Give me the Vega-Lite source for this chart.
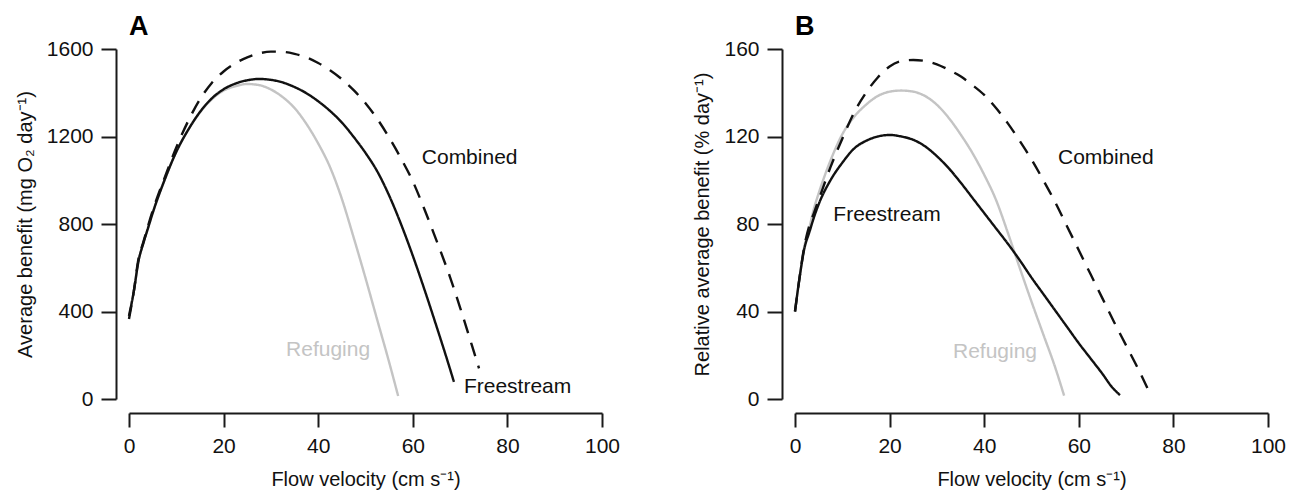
{
  "$schema": "https://vega.github.io/schema/vega-lite/v6.json",
  "background": "white",
  "padding": {"left": 15, "top": 13, "right": 5, "bottom": 5},
  "bounds": "flush",
  "spacing": 193,
  "config": {
    "view": {"stroke": null},
    "font": "Liberation Sans",
    "axis": {
      "domain": true, "ticks": true,
      "domainColor": "#1a1a1a", "domainWidth": 2, "domainOpacity": 1, "tickColor": "#1a1a1a", "tickWidth": 2,
      "tickSize": 15, "labelFontSize": 21, "titleFontSize": 20, "labelColor": "#111111",
      "titleColor": "#111111", "titleFontWeight": "normal", "grid": false,
      "labelFont": "Liberation Sans", "titleFont": "Liberation Sans",
      "labelFlush": false, "labelOverlap": false, "format": "d"
    },
    "axisX": {"offset": 14, "labelPadding": 8, "titlePadding": 13, "tickSize": 14},
    "axisY": {"offset": 13, "labelPadding": 8, "titlePadding": 11}
  },
  "datasets": {
    "a": [
      {"series": "Refuging", "v": 0, "val": 380}, {"series": "Refuging", "v": 1, "val": 490}, {"series": "Refuging", "v": 2, "val": 630}, {"series": "Refuging", "v": 3, "val": 710}, {"series": "Refuging", "v": 4, "val": 780}, {"series": "Refuging", "v": 5, "val": 850}, {"series": "Refuging", "v": 7.5, "val": 1000}, {"series": "Refuging", "v": 10, "val": 1130}, {"series": "Refuging", "v": 12.5, "val": 1230}, {"series": "Refuging", "v": 15, "val": 1310}, {"series": "Refuging", "v": 17.5, "val": 1370}, {"series": "Refuging", "v": 20, "val": 1410}, {"series": "Refuging", "v": 22.5, "val": 1430}, {"series": "Refuging", "v": 25, "val": 1440}, {"series": "Refuging", "v": 27.5, "val": 1435}, {"series": "Refuging", "v": 30, "val": 1415}, {"series": "Refuging", "v": 32.5, "val": 1380}, {"series": "Refuging", "v": 35, "val": 1330}, {"series": "Refuging", "v": 37.5, "val": 1258}, {"series": "Refuging", "v": 40, "val": 1168}, {"series": "Refuging", "v": 42.5, "val": 1060}, {"series": "Refuging", "v": 45, "val": 915}, {"series": "Refuging", "v": 47.5, "val": 738}, {"series": "Refuging", "v": 50, "val": 553}, {"series": "Refuging", "v": 52.5, "val": 360}, {"series": "Refuging", "v": 55, "val": 168}, {"series": "Refuging", "v": 56.9, "val": 14},
      {"series": "Freestream", "v": 0, "val": 380}, {"series": "Freestream", "v": 1, "val": 490}, {"series": "Freestream", "v": 2, "val": 630}, {"series": "Freestream", "v": 3, "val": 710}, {"series": "Freestream", "v": 4, "val": 780}, {"series": "Freestream", "v": 5, "val": 850}, {"series": "Freestream", "v": 7.5, "val": 1000}, {"series": "Freestream", "v": 10, "val": 1130}, {"series": "Freestream", "v": 12.5, "val": 1230}, {"series": "Freestream", "v": 15, "val": 1312}, {"series": "Freestream", "v": 17.5, "val": 1374}, {"series": "Freestream", "v": 20, "val": 1416}, {"series": "Freestream", "v": 22.5, "val": 1442}, {"series": "Freestream", "v": 25, "val": 1457}, {"series": "Freestream", "v": 27.5, "val": 1463}, {"series": "Freestream", "v": 30, "val": 1459}, {"series": "Freestream", "v": 32.5, "val": 1447}, {"series": "Freestream", "v": 35, "val": 1426}, {"series": "Freestream", "v": 37.5, "val": 1398}, {"series": "Freestream", "v": 40, "val": 1361}, {"series": "Freestream", "v": 42.5, "val": 1317}, {"series": "Freestream", "v": 45, "val": 1264}, {"series": "Freestream", "v": 47.5, "val": 1198}, {"series": "Freestream", "v": 50, "val": 1125}, {"series": "Freestream", "v": 52.5, "val": 1040}, {"series": "Freestream", "v": 55, "val": 930}, {"series": "Freestream", "v": 57.5, "val": 800}, {"series": "Freestream", "v": 60, "val": 655}, {"series": "Freestream", "v": 62.5, "val": 498}, {"series": "Freestream", "v": 65, "val": 333}, {"series": "Freestream", "v": 67.5, "val": 163}, {"series": "Freestream", "v": 68.7, "val": 78},
      {"series": "Combined", "v": 0, "val": 366}, {"series": "Combined", "v": 1, "val": 490}, {"series": "Combined", "v": 2, "val": 640}, {"series": "Combined", "v": 3, "val": 715}, {"series": "Combined", "v": 5, "val": 860}, {"series": "Combined", "v": 7.5, "val": 1010}, {"series": "Combined", "v": 10, "val": 1150}, {"series": "Combined", "v": 12.5, "val": 1270}, {"series": "Combined", "v": 15, "val": 1370}, {"series": "Combined", "v": 17.5, "val": 1445}, {"series": "Combined", "v": 20, "val": 1497}, {"series": "Combined", "v": 22.5, "val": 1535}, {"series": "Combined", "v": 25, "val": 1562}, {"series": "Combined", "v": 27.5, "val": 1580}, {"series": "Combined", "v": 30, "val": 1588}, {"series": "Combined", "v": 32.5, "val": 1587}, {"series": "Combined", "v": 35, "val": 1578}, {"series": "Combined", "v": 37.5, "val": 1562}, {"series": "Combined", "v": 40, "val": 1536}, {"series": "Combined", "v": 42.5, "val": 1503}, {"series": "Combined", "v": 45, "val": 1462}, {"series": "Combined", "v": 47.5, "val": 1412}, {"series": "Combined", "v": 50, "val": 1352}, {"series": "Combined", "v": 52.5, "val": 1280}, {"series": "Combined", "v": 55, "val": 1195}, {"series": "Combined", "v": 57.5, "val": 1100}, {"series": "Combined", "v": 60, "val": 995}, {"series": "Combined", "v": 62.5, "val": 865}, {"series": "Combined", "v": 65, "val": 725}, {"series": "Combined", "v": 67.5, "val": 580}, {"series": "Combined", "v": 70, "val": 418}, {"series": "Combined", "v": 72.5, "val": 245}, {"series": "Combined", "v": 74, "val": 140}
    ],
    "b": [
      {"series": "Refuging", "v": 0, "val": 40}, {"series": "Refuging", "v": 1, "val": 56}, {"series": "Refuging", "v": 2, "val": 70}, {"series": "Refuging", "v": 3, "val": 78}, {"series": "Refuging", "v": 4, "val": 87}, {"series": "Refuging", "v": 5, "val": 94}, {"series": "Refuging", "v": 7.5, "val": 109}, {"series": "Refuging", "v": 10, "val": 121}, {"series": "Refuging", "v": 12.5, "val": 129}, {"series": "Refuging", "v": 15, "val": 134.5}, {"series": "Refuging", "v": 17.5, "val": 138.5}, {"series": "Refuging", "v": 20, "val": 140.5}, {"series": "Refuging", "v": 22.5, "val": 141}, {"series": "Refuging", "v": 25, "val": 140.5}, {"series": "Refuging", "v": 27.5, "val": 138.5}, {"series": "Refuging", "v": 30, "val": 134.5}, {"series": "Refuging", "v": 32.5, "val": 128.5}, {"series": "Refuging", "v": 35, "val": 121}, {"series": "Refuging", "v": 37.5, "val": 112.5}, {"series": "Refuging", "v": 40, "val": 102.5}, {"series": "Refuging", "v": 42.5, "val": 91}, {"series": "Refuging", "v": 45, "val": 76}, {"series": "Refuging", "v": 47.5, "val": 60}, {"series": "Refuging", "v": 50, "val": 44.5}, {"series": "Refuging", "v": 52.5, "val": 29.5}, {"series": "Refuging", "v": 55, "val": 14.5}, {"series": "Refuging", "v": 56.9, "val": 1.5},
      {"series": "Freestream", "v": 0, "val": 40}, {"series": "Freestream", "v": 1, "val": 56}, {"series": "Freestream", "v": 2, "val": 69}, {"series": "Freestream", "v": 3, "val": 76}, {"series": "Freestream", "v": 4, "val": 83}, {"series": "Freestream", "v": 5, "val": 89}, {"series": "Freestream", "v": 7.5, "val": 100}, {"series": "Freestream", "v": 10, "val": 108}, {"series": "Freestream", "v": 12.5, "val": 114.5}, {"series": "Freestream", "v": 15, "val": 118}, {"series": "Freestream", "v": 17.5, "val": 120}, {"series": "Freestream", "v": 20, "val": 120.7}, {"series": "Freestream", "v": 22.5, "val": 120}, {"series": "Freestream", "v": 25, "val": 118.5}, {"series": "Freestream", "v": 27.5, "val": 115.5}, {"series": "Freestream", "v": 30, "val": 111}, {"series": "Freestream", "v": 32.5, "val": 105.5}, {"series": "Freestream", "v": 35, "val": 99}, {"series": "Freestream", "v": 37.5, "val": 92}, {"series": "Freestream", "v": 40, "val": 85}, {"series": "Freestream", "v": 42.5, "val": 78}, {"series": "Freestream", "v": 45, "val": 71}, {"series": "Freestream", "v": 47.5, "val": 63.5}, {"series": "Freestream", "v": 50, "val": 55.5}, {"series": "Freestream", "v": 52.5, "val": 48}, {"series": "Freestream", "v": 55, "val": 40.5}, {"series": "Freestream", "v": 57.5, "val": 33}, {"series": "Freestream", "v": 60, "val": 25.5}, {"series": "Freestream", "v": 62.5, "val": 18.5}, {"series": "Freestream", "v": 65, "val": 11.5}, {"series": "Freestream", "v": 67, "val": 5.5}, {"series": "Freestream", "v": 68.7, "val": 1.8},
      {"series": "Combined", "v": 0, "val": 40}, {"series": "Combined", "v": 1, "val": 56}, {"series": "Combined", "v": 2, "val": 70}, {"series": "Combined", "v": 3, "val": 79}, {"series": "Combined", "v": 4, "val": 85}, {"series": "Combined", "v": 5, "val": 91}, {"series": "Combined", "v": 7.5, "val": 106}, {"series": "Combined", "v": 10, "val": 119}, {"series": "Combined", "v": 12.5, "val": 131}, {"series": "Combined", "v": 15, "val": 140}, {"series": "Combined", "v": 17.5, "val": 147}, {"series": "Combined", "v": 20, "val": 152}, {"series": "Combined", "v": 22.5, "val": 154.5}, {"series": "Combined", "v": 25, "val": 155}, {"series": "Combined", "v": 27.5, "val": 154.5}, {"series": "Combined", "v": 30, "val": 153}, {"series": "Combined", "v": 32.5, "val": 150.5}, {"series": "Combined", "v": 35, "val": 147.5}, {"series": "Combined", "v": 37.5, "val": 143.5}, {"series": "Combined", "v": 40, "val": 139}, {"series": "Combined", "v": 42.5, "val": 133}, {"series": "Combined", "v": 45, "val": 126}, {"series": "Combined", "v": 47.5, "val": 118}, {"series": "Combined", "v": 50, "val": 109.5}, {"series": "Combined", "v": 52.5, "val": 100}, {"series": "Combined", "v": 55, "val": 90}, {"series": "Combined", "v": 57.5, "val": 79}, {"series": "Combined", "v": 60, "val": 68}, {"series": "Combined", "v": 62.5, "val": 57}, {"series": "Combined", "v": 65, "val": 46}, {"series": "Combined", "v": 67.5, "val": 35}, {"series": "Combined", "v": 70, "val": 24.5}, {"series": "Combined", "v": 72.5, "val": 14}, {"series": "Combined", "v": 74.5, "val": 5}
    ],
    "la": [
      {"series": "Combined", "label": "Combined", "v": 61.9, "val": 1102},
      {"series": "Freestream", "label": "Freestream", "v": 70.8, "val": 56},
      {"series": "Refuging", "label": "Refuging", "v": 33.2, "val": 224}
    ],
    "lb": [
      {"series": "Combined", "label": "Combined", "v": 55.6, "val": 110},
      {"series": "Freestream", "label": "Freestream", "v": 8.1, "val": 84},
      {"series": "Refuging", "label": "Refuging", "v": 33.4, "val": 21.6}
    ]
  },
  "hconcat": [
    {
      "width": 473, "height": 350,
      "title": {"text": "A", "anchor": "start", "frame": "group", "fontSize": 27, "fontWeight": "bold", "font": "Liberation Sans", "color": "#000000", "offset": -3},
      "layer": [
        {
          "data": {"name": "a"},
          "mark": {"type": "line", "strokeWidth": 2.4, "interpolate": "monotone"},
          "encoding": {
            "x": {"field": "v", "type": "quantitative", "scale": {"domain": [0, 100], "nice": false}, "axis": {"values": [0, 20, 40, 60, 80, 100], "title": "Flow velocity (cm s⁻¹)", "domain": true}},
            "y": {"field": "val", "type": "quantitative", "scale": {"domain": [0, 1600], "nice": false}, "axis": {"values": [0, 400, 800, 1200, 1600], "title": "Average benefit (mg O₂ day⁻¹)", "domain": true}},
            "color": {"field": "series", "type": "nominal", "scale": {"domain": ["Refuging", "Freestream", "Combined"], "range": ["#c4c4c4", "#111111", "#111111"]}, "legend": null},
            "strokeDash": {"field": "series", "type": "nominal", "scale": {"domain": ["Refuging", "Freestream", "Combined"], "range": [[1, 0], [1, 0], [14, 10]]}, "legend": null}
          }
        },
        {
          "data": {"name": "la"},
          "mark": {"type": "text", "align": "left", "baseline": "middle", "fontSize": 21, "font": "Liberation Sans"},
          "encoding": {
            "x": {"field": "v", "type": "quantitative"},
            "y": {"field": "val", "type": "quantitative"},
            "text": {"field": "label"},
            "color": {"field": "series", "type": "nominal", "legend": null}
          }
        }
      ]
    },
    {
      "width": 473, "height": 350,
      "title": {"text": "B", "anchor": "start", "frame": "group", "fontSize": 27, "fontWeight": "bold", "font": "Liberation Sans", "color": "#000000", "offset": -3},
      "layer": [
        {
          "data": {"name": "b"},
          "mark": {"type": "line", "strokeWidth": 2.4, "interpolate": "monotone"},
          "encoding": {
            "x": {"field": "v", "type": "quantitative", "scale": {"domain": [0, 100], "nice": false}, "axis": {"values": [0, 20, 40, 60, 80, 100], "title": "Flow velocity (cm s⁻¹)", "domain": true}},
            "y": {"field": "val", "type": "quantitative", "scale": {"domain": [0, 160], "nice": false}, "axis": {"values": [0, 40, 80, 120, 160], "title": "Relative average benefit (% day⁻¹)", "domain": true}},
            "color": {"field": "series", "type": "nominal", "scale": {"domain": ["Refuging", "Freestream", "Combined"], "range": ["#c4c4c4", "#111111", "#111111"]}, "legend": null},
            "strokeDash": {"field": "series", "type": "nominal", "scale": {"domain": ["Refuging", "Freestream", "Combined"], "range": [[1, 0], [1, 0], [14, 10]]}, "legend": null}
          }
        },
        {
          "data": {"name": "lb"},
          "mark": {"type": "text", "align": "left", "baseline": "middle", "fontSize": 21, "font": "Liberation Sans"},
          "encoding": {
            "x": {"field": "v", "type": "quantitative"},
            "y": {"field": "val", "type": "quantitative"},
            "text": {"field": "label"},
            "color": {"field": "series", "type": "nominal", "legend": null}
          }
        }
      ]
    }
  ]
}
